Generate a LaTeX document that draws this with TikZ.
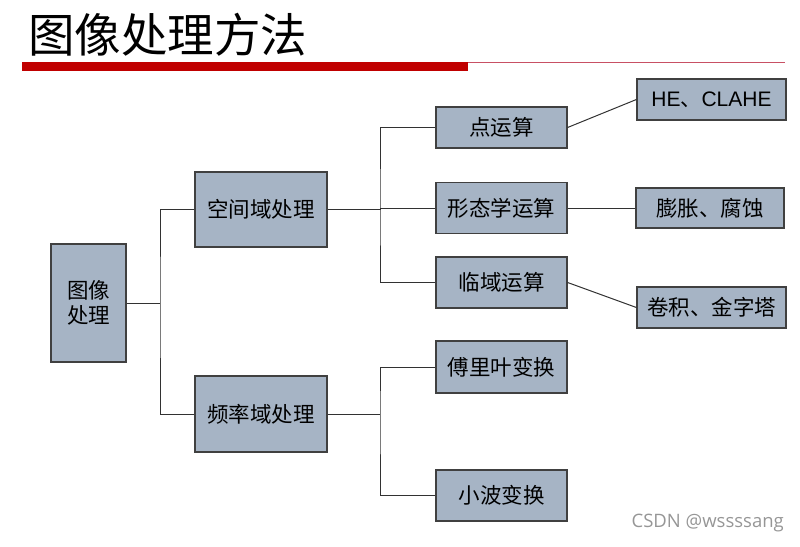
\documentclass[tikz,border=0pt]{standalone}
\usepackage{fontspec}
\setmainfont{Liberation Sans}
\newfontfamily\cjk{Noto Sans CJK SC}
\newfontfamily\wmfont{Open Sans}
\definecolor{boxfill}{RGB}{166,180,197}
\definecolor{boxline}{RGB}{64,64,64}
\definecolor{conn}{RGB}{50,50,50}
\definecolor{barred}{RGB}{192,0,0}
\definecolor{thinred}{RGB}{200,80,100}
\definecolor{wmgray}{RGB}{150,150,150}
\tikzset{
  box/.style={draw=boxline, fill=boxfill, line width=1.2pt, inner sep=0pt,
    font=\cjk\fontsize{21.5}{25}\selectfont, align=center},
  link/.style={draw=conn, line width=1pt}
}
\begin{document}
\begin{tikzpicture}[x=1pt,y=-1pt]
\useasboundingbox (0,0) rectangle (800,546);
% title
\node[anchor=west, inner sep=0pt, font=\cjk\fontsize{46.5}{50}\selectfont] (title) at (28,35) {图像处理方法};
\fill[barred] (22,62) rectangle (468,71);
\draw[thinred, line width=0.8pt] (468,62.5) -- (785,62.5);
% nodes
\node[box, minimum width=75pt, minimum height=118pt] (root) at (88.5,303) {图像\\处理};
\node[box, minimum width=132pt, minimum height=75pt] (spatial) at (261,209.5) {空间域处理};
\node[box, minimum width=132pt, minimum height=76pt] (freq) at (261,414) {频率域处理};
\node[box, minimum width=131pt, minimum height=41pt] (pt) at (501.5,127.5) {点运算};
\node[box, minimum width=131pt, minimum height=51pt] (morph) at (501.5,208) {形态学运算};
\node[box, minimum width=131pt, minimum height=51pt] (neigh) at (501.5,282.5) {临域运算};
\node[box, minimum width=131pt, minimum height=52pt] (fourier) at (501.5,367) {傅里叶变换};
\node[box, minimum width=131pt, minimum height=51pt] (wavelet) at (501.5,495.5) {小波变换};
\node[box, minimum width=149pt, minimum height=41pt, font=\fontsize{21}{25}\selectfont] (he) at (711.5,99.5) {HE{\cjk 、}CLAHE};
\node[box, minimum width=148pt, minimum height=40pt] (dilate) at (710,208) {膨胀、腐蚀};
\node[box, minimum width=149pt, minimum height=41pt] (conv) at (711.5,307.5) {卷积、金字塔};
% junctions
\coordinate (j1) at (160,303);
\coordinate (j2) at (380,209.5);
\coordinate (j3) at (380,414);
% connectors
\draw[link] (root.east) -- (j1);
\draw[link] (spatial.west) -| (j1) |- (freq.west);
\draw[link] (spatial.east) -- (j2);
\draw[link] (pt.west) -| (j2) |- (neigh.west);
\draw[link] (j2) |- (morph.west);
\draw[link] (freq.east) -- (j3);
\draw[link] (fourier.west) -| (j3) |- (wavelet.west);
\draw[link] (pt.east) -- (he.west);
\draw[link] (morph.east) -- (dilate.west);
\draw[link] (neigh.east) -- (conv.west);
% watermark
\node[anchor=east, inner sep=0pt, text=wmgray, font=\wmfont\fontsize{18.5}{20}\selectfont] (wm) at (784,523) {CSDN @wssssang};
\end{tikzpicture}
\end{document}
